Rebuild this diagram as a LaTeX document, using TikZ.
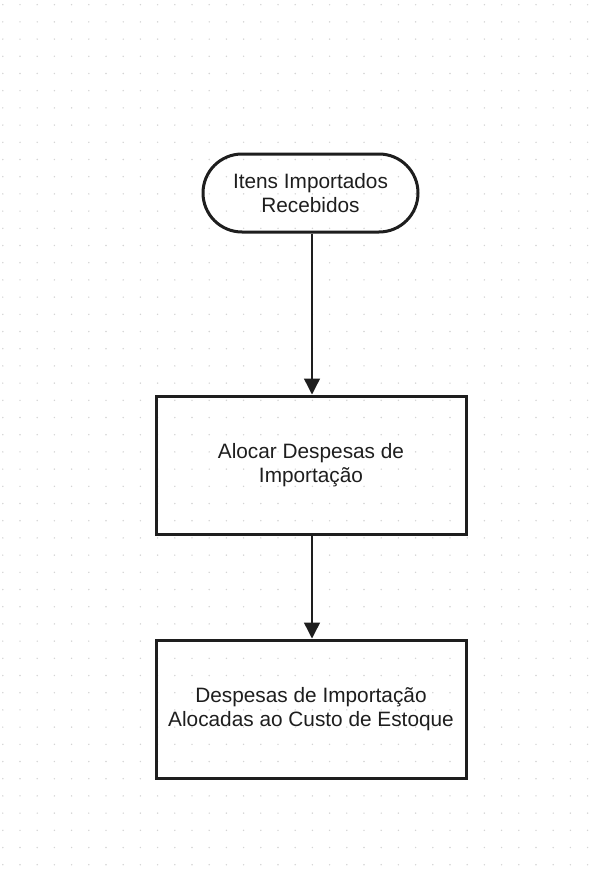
\documentclass[tikz,border=0pt]{standalone}
\usepackage{fontspec}
\setmainfont{Liberation Sans}
\usetikzlibrary{arrows.meta,shapes.misc}
\definecolor{ink}{HTML}{1E1E1E}
\definecolor{dotc}{HTML}{D4D4D4}
\tikzset{
  termbox/.style={draw=ink, line width=3pt, rounded rectangle, minimum width=215pt, minimum height=78pt, inner sep=0pt, align=center, font=\fontsize{20.8}{24}\selectfont, text=ink},
  procbox/.style={draw=ink, line width=3pt, rectangle, minimum width=310pt, minimum height=138pt, inner sep=0pt, align=center, font=\fontsize{20.8}{24}\selectfont, text=ink},
  flow/.style={draw=ink, line width=1.4pt, -{Triangle[length=16pt,width=16pt]}}
}
\begin{document}
\begin{tikzpicture}[x=1pt,y=-1pt]
\useasboundingbox (0,0) rectangle (598,872);
\fill[white] (0,0) rectangle (598,872);
\foreach \i in {0,...,34} {
  \foreach \j in {0,...,50} {
    \fill[dotc] ({2.8+17.2*\i},{4.7+17.2*\j}) circle (0.8pt);
  }
}
\node[termbox] (a) at (310.5,193) {Itens Importados\\Recebidos};
\node[procbox] (b) at (311,465) {Alocar Despesas de\\Importação};
\node[procbox] (c) at (311,709) {Despesas de Importação\\Alocadas ao Custo de Estoque};
\draw[flow] (a.south -| 312,0) -- (b.north -| 312,0);
\draw[flow] (b.south -| 312,0) -- (c.north -| 312,0);
\end{tikzpicture}
\end{document}
